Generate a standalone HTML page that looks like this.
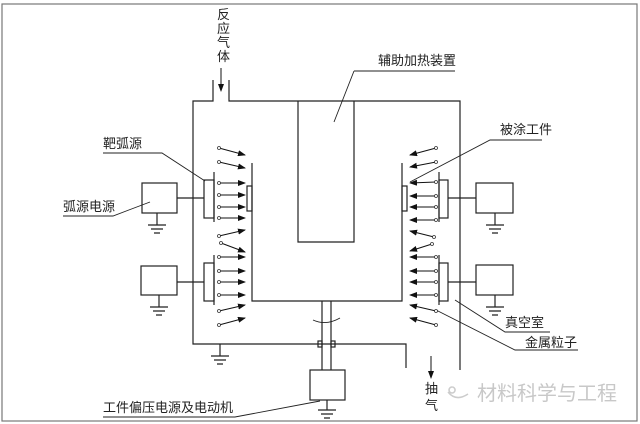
<!DOCTYPE html>
<html><head><meta charset="utf-8"><style>
html,body{margin:0;padding:0;background:#fff;width:640px;height:424px;overflow:hidden}
text{font-family:"Liberation Sans","Noto Sans CJK SC",sans-serif;fill:#222}
</style></head><body>
<svg width="640" height="424" viewBox="0 0 640 424" xmlns="http://www.w3.org/2000/svg">
<defs>
<marker id="a" markerWidth="8" markerHeight="6" refX="7" refY="3" orient="auto" markerUnits="userSpaceOnUse"><path d="M0,0 L8,3 L0,6 Z" fill="#111"/></marker>
<marker id="c" markerWidth="4" markerHeight="4" refX="2" refY="2" markerUnits="userSpaceOnUse"><circle cx="2" cy="2" r="1.5" fill="#fff" stroke="#333" stroke-width="0.8"/></marker>
</defs>
<rect x="2" y="4" width="635" height="417" fill="none" stroke="#777" stroke-width="1.2"/>
<g stroke="#222" stroke-width="1.2" fill="none">
<path d="M213,80 V101 H193 V344 H406 V368"/>
<path d="M229,80 V101 H460 V370"/>
<path d="M298,101 V242 H354 V101"/>
<path d="M252,163 V301 H402 V163"/>
<rect x="247" y="186" width="5" height="25"/>
<rect x="402" y="186" width="5" height="25"/>
<path d="M322,301 V370 M331,301 V370"/>
<rect x="318" y="341" width="4" height="6"/><rect x="331" y="341" width="4" height="6"/>
<rect x="310" y="370" width="35" height="30"/>
<path d="M327,400 V410 M318,410 H336 M321,414 H333 M324,418 H330"/>
<path d="M313,320 Q326,326 340,318" stroke-width="0.9"/>
<path d="M220,344 V356 M211,356 H229 M214,360 H226 M217,364 H223"/>
<path d="M214,172 V222 M214,255 V305"/>
<rect x="204" y="180" width="10" height="38"/>
<rect x="204" y="263" width="10" height="38"/>
<path d="M177,198 H204 M177,282 H204"/>
<rect x="142" y="183" width="35" height="30"/>
<rect x="141" y="266" width="36" height="29"/>
<path d="M157,213 V225 M148,225 H166 M151,229 H163 M154,233 H160"/>
<path d="M159,295 V307 M150,307 H168 M153,311 H165 M156,315 H162"/>
<path d="M439,172 V222 M439,255 V305"/>
<rect x="439" y="180" width="9" height="38"/>
<rect x="439" y="263" width="9" height="38"/>
<path d="M448,198 H476 M448,282 H476"/>
<rect x="476" y="183" width="37" height="30"/>
<rect x="476" y="265" width="37" height="30"/>
<path d="M495,213 V225 M486,225 H504 M489,229 H501 M492,233 H498"/>
<path d="M495,295 V307 M486,307 H504 M489,311 H501 M492,315 H498"/>
<path d="M103,153 H162 L205,181" stroke-width="0.9"/>
<path d="M63,216 H113 L150,202" stroke-width="0.9"/>
<path d="M354,71 H455 M354,71 L334,122" stroke-width="0.9"/>
<path d="M542,140 H490 L410,182" stroke-width="0.9"/>
<path d="M455,300 L505,332 H550" stroke-width="0.9"/>
<path d="M436,310 L515,350 H578" stroke-width="0.9"/>
<path d="M103,417 H235 L320,401" stroke-width="0.9"/>
</g>
<g stroke="#111" stroke-width="1" marker-start="url(#c)" marker-end="url(#a)">
<line x1="219" y1="148" x2="245" y2="155"/>
<line x1="219" y1="162" x2="245" y2="168"/>
<line x1="219" y1="183" x2="245" y2="183"/>
<line x1="219" y1="195" x2="245" y2="195"/>
<line x1="219" y1="207" x2="245" y2="207"/>
<line x1="219" y1="218" x2="245" y2="218"/>
<line x1="219" y1="236" x2="245" y2="230"/>
<line x1="221" y1="243" x2="245" y2="252"/>
<line x1="219" y1="257" x2="245" y2="257"/>
<line x1="219" y1="271" x2="245" y2="271"/>
<line x1="219" y1="282" x2="245" y2="282"/>
<line x1="219" y1="295" x2="245" y2="295"/>
<line x1="219" y1="311" x2="245" y2="305"/>
<line x1="219" y1="325" x2="245" y2="318"/>
<line x1="436" y1="148" x2="410" y2="155"/>
<line x1="436" y1="162" x2="410" y2="167"/>
<line x1="436" y1="182" x2="410" y2="183"/>
<line x1="436" y1="196" x2="410" y2="196"/>
<line x1="436" y1="207" x2="410" y2="207"/>
<line x1="436" y1="220" x2="410" y2="220"/>
<line x1="434" y1="237" x2="410" y2="231"/>
<line x1="432" y1="244" x2="410" y2="251"/>
<line x1="436" y1="257" x2="410" y2="257"/>
<line x1="436" y1="271" x2="410" y2="271"/>
<line x1="436" y1="282" x2="410" y2="282"/>
<line x1="436" y1="295" x2="410" y2="295"/>
<line x1="436" y1="311" x2="410" y2="305"/>
<line x1="436" y1="325" x2="410" y2="318"/>
</g>
<line x1="221" y1="68" x2="221" y2="91" stroke="#111" marker-end="url(#a)"/>
<line x1="431" y1="356" x2="431" y2="378" stroke="#111" marker-end="url(#a)"/>
<g font-size="13">
<text x="217" y="19">反</text><text x="217" y="33">应</text><text x="217" y="47">气</text><text x="217" y="61">体</text>
<text x="378" y="65">辅助加热装置</text>
<text x="103" y="148">靶弧源</text>
<text x="63" y="211">弧源电源</text>
<text x="500" y="134">被涂工件</text>
<text x="505" y="327">真空室</text>
<text x="525" y="347">金属粒子</text>
<text x="103" y="412">工件偏压电源及电动机</text>
<text x="425" y="393">抽</text><text x="425" y="410">气</text>
</g>
<text x="477" y="400" font-size="20" style="fill:#c8c8c8">材料科学与工程</text>
<path d="M448,392 q8,10 20,2 M452,387 a3,3 0 1,0 0.1,0" stroke="#ccc" fill="none" stroke-width="1.5"/>
</svg>
</body></html>
